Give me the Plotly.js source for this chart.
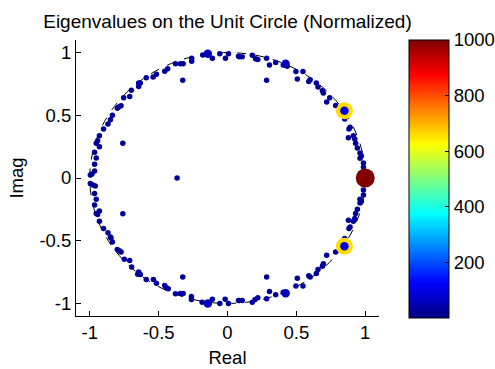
<!DOCTYPE html>
<html>
<head>
<meta charset="utf-8">
<script src="https://cdn.plot.ly/plotly-3.0.1.min.js"></script>
<style>html,body{margin:0;padding:0;background:#fff;}#chart{width:495px;height:369px;}</style>
</head>
<body>
<div id="chart"></div>
<script>
// ---- data ----
const axisTickVals = [-1, -0.5, 0, 0.5, 1];
const axisTickText = ["-1", "-0.5", "0", "0.5", "1"];
const cbTickVals = [200, 400, 600, 800, 1000];
const cbTickText = ["200", "400", "600", "800", "1000"];

// ordinary eigenvalues (small weight)
const smallRe = [
 -0.056,-0.11,-0.015,0.007,0.08,-0.18,-0.26,-0.26,-0.378,-0.342,-0.322,-0.434,-0.456,-0.516,-0.54,-0.59,-0.645,-0.633,-0.645,-0.698,-0.71,-0.754,-0.773,-0.79,-0.80,-0.836,-0.85,-0.868,-0.9,-0.93,-0.943,-0.953,-0.93,-0.965,-0.953,-0.965,-0.965,-0.984,-0.996,
 0.087,0.107,0.18,0.204,0.22,0.284,0.305,0.35,0.405,0.434,0.497,0.548,0.507,0.59,0.6,0.645,0.657,0.689,0.696,0.742,0.72,0.785,0.851,0.882,0.89,0.878,0.914,0.924,0.93,0.943,0.962,0.972,0.962,0.987,0.987,
 -0.325,-0.76,0.284,-0.366,
 -0.996,-0.977,-0.96,-0.965,-0.953,-0.965,-0.953,-0.943,-0.93,-0.93,-0.9,-0.868,-0.85,-0.846,-0.836,-0.8,-0.785,-0.773,-0.749,-0.71,-0.696,-0.645,-0.633,-0.652,-0.59,-0.538,-0.516,-0.456,-0.444,-0.43,-0.378,-0.342,-0.322,-0.262,-0.262,-0.184,-0.11,-0.056,-0.017,0.007,0.08,
 0.087,0.107,0.18,0.2,0.22,0.284,0.305,0.35,0.405,0.497,0.548,0.507,0.59,0.6,0.645,0.657,0.689,0.696,0.72,0.785,0.851,0.882,0.89,0.878,0.914,0.924,0.93,0.943,0.962,0.972,0.962,0.987,0.987,
 -0.76,-0.325,0.284
];
const smallIm = [
 0.99,0.955,0.955,0.99,0.97,0.98,0.955,0.93,0.91,0.91,0.91,0.87,0.85,0.826,0.805,0.80,0.757,0.757,0.73,0.70,0.65,0.64,0.576,0.565,0.555,0.50,0.464,0.43,0.39,0.336,0.296,0.277,0.25,0.205,0.16,0.11,0.056,0.032,0.024,
 0.966,0.966,0.978,0.95,0.944,0.955,0.9,0.92,0.9,0.89,0.848,0.848,0.79,0.77,0.784,0.757,0.725,0.696,0.677,0.64,0.605,0.578,0.47,0.39,0.405,0.32,0.336,0.31,0.277,0.24,0.2,0.176,0.157,0.12,0.085,
 0.78,0.277,0.78,0.0,
 -0.043,-0.056,-0.064,-0.123,-0.17,-0.216,-0.283,-0.29,-0.264,-0.344,-0.403,-0.437,-0.47,-0.478,-0.51,-0.57,-0.58,-0.59,-0.648,-0.658,-0.71,-0.75,-0.77,-0.768,-0.81,-0.81,-0.838,-0.856,-0.874,-0.883,-0.922,-0.92,-0.92,-0.944,-0.968,-0.99,-0.966,-1.0,-0.966,-1.0,-0.976,
 -0.976,-0.976,-0.99,-0.968,-0.955,-0.963,-0.904,-0.93,-0.91,-0.86,-0.86,-0.8,-0.78,-0.79,-0.762,-0.73,-0.704,-0.683,-0.616,-0.59,-0.483,-0.403,-0.39,-0.336,-0.344,-0.323,-0.283,-0.25,-0.2,-0.185,-0.17,-0.136,-0.096,
 -0.285,-0.79,-0.79
];
const smallWeight = 25;

// somewhat larger blue eigenvalues
const mediumRe = [-0.143, 0.422, -0.143, 0.422];
const mediumIm = [0.99, 0.91, -1.0, -0.918];
const mediumWeight = [60, 60, 60, 60];

// highlighted conjugate pair (yellow) and its inner point
const pairRe = [0.849, 0.849];
const pairIm = [0.536, -0.544];
const pairWeight = [660, 660];
const pairInnerWeight = [100, 100];

// dominant eigenvalue
const domRe = [1.0];
const domIm = [0.0];
const domWeight = [1000];

// ---- chart ----
const jet = [
 [0, 'rgb(0,0,128)'], [0.125, 'rgb(0,0,255)'], [0.375, 'rgb(0,255,255)'],
 [0.625, 'rgb(255,255,0)'], [0.875, 'rgb(255,0,0)'], [1, 'rgb(128,0,0)']
];
const FONT = 'Arial, "Liberation Sans", sans-serif';

function mk(x, y, c, size, showScale) {
  return {
    type: 'scatter', mode: 'markers', x: x, y: y, hoverinfo: 'skip',
    marker: {
      size: size, color: c, colorscale: jet, cmin: 0, cmax: 1000,
      line: {width: 0}, showscale: !!showScale,
      colorbar: showScale ? {
        thickness: 40, thicknessmode: 'pixels',
        len: 278, lenmode: 'pixels',
        x: 1.1005, xanchor: 'left', xpad: 0,
        y: 1, yanchor: 'top', ypad: 0,
        outlinecolor: '#000', outlinewidth: 1,
        ticks: 'inside', ticklen: 4, tickcolor: '#000',
        tickvals: cbTickVals, ticktext: cbTickText,
        tickfont: {family: FONT, size: 18.5, color: '#000'}
      } : undefined
    },
    showlegend: false
  };
}

const traces = [
  mk(smallRe, smallIm, smallRe.map(() => smallWeight), 5.5, false),
  mk(mediumRe, mediumIm, mediumWeight, 8.5, false),
  mk(pairRe, pairIm, pairWeight, 17, false),
  mk(pairRe, pairIm, pairInnerWeight, 8.5, false),
  mk(domRe, domIm, domWeight, 19, true)
];

const axisCommon = {
  range: [-1.1, 1.1], showgrid: false, zeroline: false,
  showline: true, linecolor: '#000', linewidth: 1, mirror: false,
  ticks: 'inside', ticklen: 5, tickcolor: '#000', tickwidth: 1,
  tickvals: axisTickVals, ticktext: axisTickText,
  tickfont: {family: FONT, size: 18.5, color: '#000'}, automargin: false
};

const layout = {
  width: 495, height: 369,
  margin: {l: 76, r: 115.5, t: 40, b: 53, pad: 0, autoexpand: false},
  paper_bgcolor: '#fff', plot_bgcolor: '#fff',
  font: {family: FONT, color: '#000'},
  title: {
    text: 'Eigenvalues on the Unit Circle (Normalized)',
    font: {family: FONT, size: 19, color: '#000'},
    x: 0.5, xref: 'paper', xanchor: 'center',
    y: 0.943, yref: 'container', yanchor: 'middle'
  },
  xaxis: Object.assign({}, axisCommon, {
    title: {text: 'Real', font: {family: FONT, size: 18.5, color: '#000'}, standoff: 8}
  }),
  yaxis: Object.assign({}, axisCommon, {
    title: {text: 'Imag', font: {family: FONT, size: 18.5, color: '#000'}, standoff: 10}
  }),
  shapes: [{
    type: 'circle', xref: 'x', yref: 'y', x0: -1, y0: -1, x1: 1, y1: 1,
    line: {color: '#000', width: 1, dash: 'dash'}, layer: 'below'
  }]
};

Plotly.newPlot('chart', traces, layout, {staticPlot: true, displayModeBar: false});
</script>
</body>
</html>
